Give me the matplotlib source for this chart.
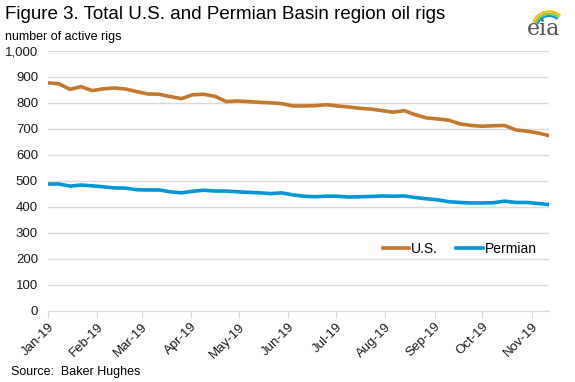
import matplotlib.pyplot as plt
import matplotlib.dates as mdates
import matplotlib.patches as mpatches
import pandas as pd

plt.rcParams['font.family'] = ['Liberation Sans', 'DejaVu Sans']

# weekly Baker Hughes counts, Friday Jan 4 2019 .. Nov 15 2019
weeks = pd.date_range("2019-01-04", "2019-11-15", freq="7D")

us_rigs = [877, 873, 852, 862, 847, 854, 857, 853, 843, 834,
           833, 824, 816, 831, 833, 825, 805, 807, 805, 802,
           800, 797, 788, 788, 789, 793, 788, 784, 779, 776,
           770, 764, 770, 754, 742, 738, 733, 719, 713, 710,
           712, 713, 696, 691, 684, 674]

permian_rigs = [488, 488, 480, 484, 481, 477, 473, 472, 466, 465,
                465, 458, 454, 460, 464, 461, 461, 458, 456, 454,
                451, 454, 446, 441, 439, 441, 441, 438, 439, 440,
                442, 441, 442, 436, 431, 427, 420, 417, 415, 415,
                416, 422, 417, 417, 413, 409]

month_ticks = [pd.Timestamp(2019, m, 4) for m in range(1, 12)]

fig = plt.figure(figsize=(5.75, 3.82), dpi=100)
ax = fig.add_axes([0.083, 0.186, 0.872, 0.681])

ax.plot(weeks, us_rigs, color="#C3782D", lw=2.6, label="U.S.", solid_joinstyle="round")
ax.plot(weeks, permian_rigs, color="#0096D7", lw=2.6, label="Permian", solid_joinstyle="round")

ax.set_ylim(0, 1000)
ax.set_yticks(range(0, 1001, 100))
ax.set_yticklabels([f"{v:,}" for v in range(0, 1001, 100)])
ax.set_xlim(weeks[0], weeks[-1])
ax.set_xticks(month_ticks)
ax.xaxis.set_major_formatter(mdates.DateFormatter("%b-%y"))
plt.setp(ax.get_xticklabels(), rotation=45, ha="right", rotation_mode="anchor")

ax.grid(axis="y", color="#D9D9D9", lw=1)
ax.set_axisbelow(True)
for s in ["top", "right", "left"]:
    ax.spines[s].set_visible(False)
ax.spines["bottom"].set_color("#D9D9D9")
ax.tick_params(axis="y", length=0, labelsize=9.5, pad=7, colors="#1a1a1a")
ax.tick_params(axis="x", length=5, color="#D9D9D9", labelsize=9.5, pad=2, colors="#1a1a1a")
for lab in ax.get_xticklabels():
    lab.set_color("#1a1a1a")

leg = ax.legend(loc="center right", bbox_to_anchor=(1.0, 0.238), ncol=2, frameon=False,
                fontsize=10, handlelength=1.9, handletextpad=0.15, columnspacing=1.3)

fig.text(0.009, 0.963, "Figure 3. Total U.S. and Permian Basin region oil rigs",
         fontsize=13.5, va="center", ha="left")
fig.text(0.009, 0.903, "number of active rigs", fontsize=9, va="center", ha="left")
fig.text(0.019, 0.027, "Source:  Baker Hughes", fontsize=9, va="center", ha="left")

# eia logo
fig.text(0.945, 0.925, "eia", fontsize=16, family="DejaVu Serif", color="#555555",
         ha="center", va="center")
for r, c in [(0.030, "#F2C200"), (0.026, "#8DC63F"), (0.022, "#0096D7")]:
    fig.add_artist(mpatches.Arc((0.955, 0.925), r * 2, r * 2 * 575 / 382, theta1=60, theta2=150,
                                transform=fig.transFigure, color=c, lw=1.5))

fig.savefig("out.png", dpi=100)
